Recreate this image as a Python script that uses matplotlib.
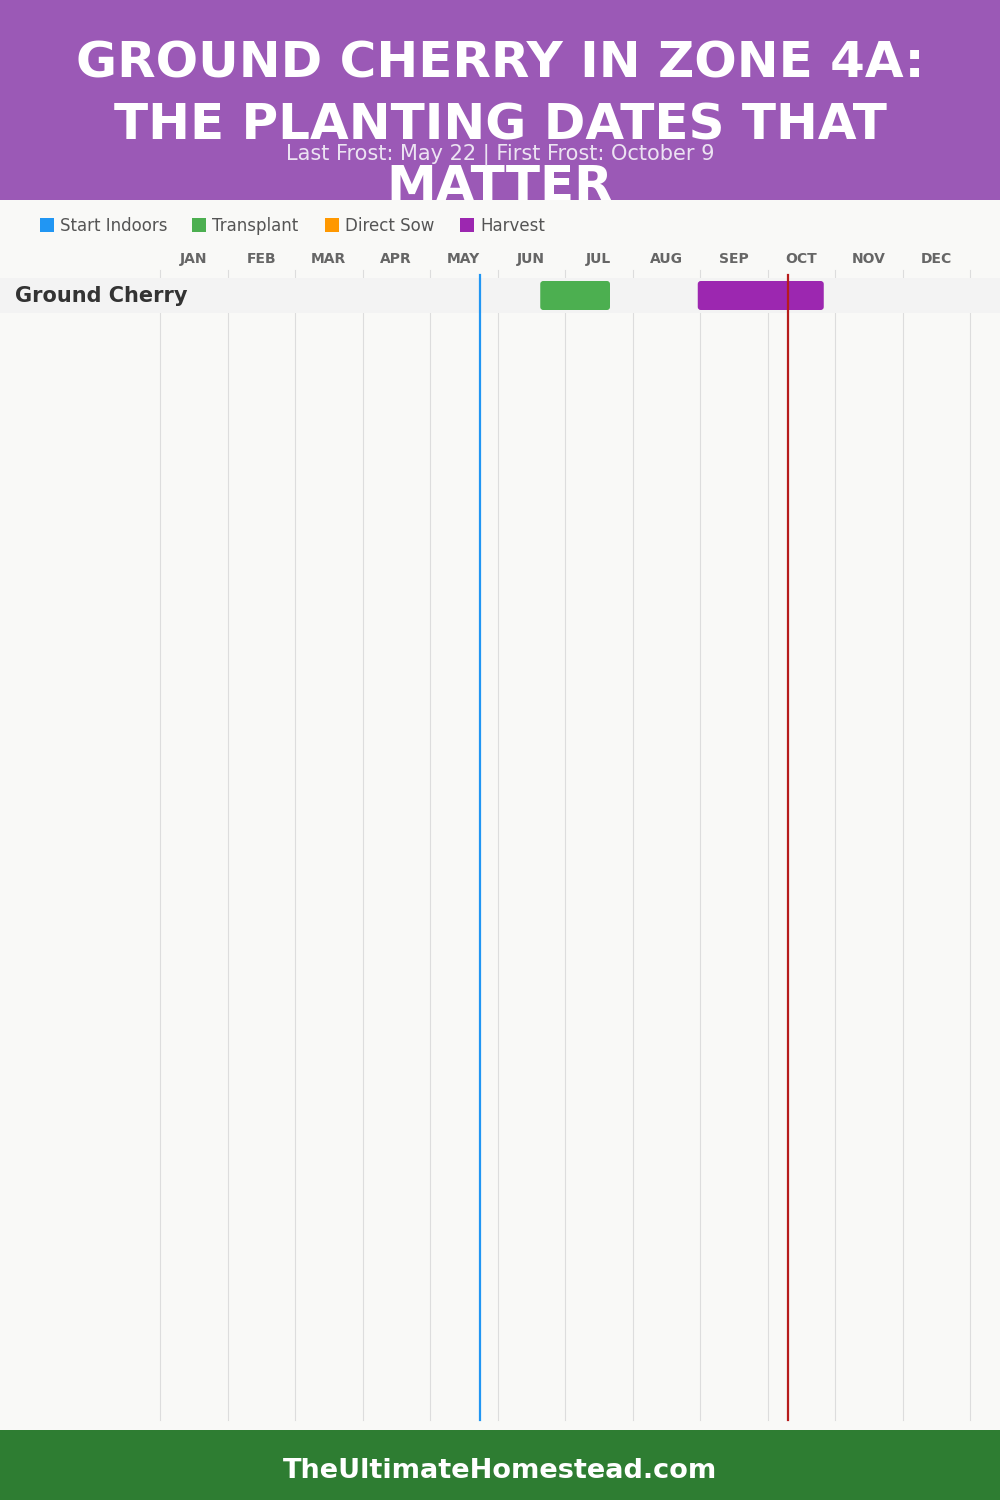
import matplotlib
matplotlib.use("Agg")
import matplotlib.pyplot as plt
from matplotlib.patches import FancyBboxPatch, Rectangle

# chart data
title = "GROUND CHERRY IN ZONE 4A:\nTHE PLANTING DATES THAT\nMATTER"
subtitle = "Last Frost: May 22 | First Frost: October 9"
footer = "TheUltimateHomestead.com"
months = ["JAN", "FEB", "MAR", "APR", "MAY", "JUN",
          "JUL", "AUG", "SEP", "OCT", "NOV", "DEC"]
legend_labels = ["Start Indoors", "Transplant", "Direct Sow", "Harvest"]
legend_colors = ["#2196f3", "#4caf50", "#ff9800", "#9c27b0"]

crops = ["Ground Cherry"]
# (month, day) ranges per crop
transplant = [((6, 19), (7, 20))]
harvest = [((8, 29), (10, 25))]
last_frost = (5, 22)
first_frost = (10, 9)


def mpos(md):
    m, d = md
    return (m - 1) + d / 30.0


W, H = 1000, 1500
fig = plt.figure(figsize=(10, 15), dpi=100)
fig.patch.set_facecolor("#f9f9f7")

# header
hdr = fig.add_axes([0, 1 - 200 / H, 1, 200 / H])
hdr.set_xlim(0, W)
hdr.set_ylim(200, 0)
hdr.set_facecolor("#9b59b6")
hdr.set_xticks([])
hdr.set_yticks([])
for s in hdr.spines.values():
    s.set_visible(False)
for i, line in enumerate(title.split("\n")):
    hdr.text(W / 2, 63 + i * 62, line, ha="center", va="center",
             color="white", fontsize=36, fontweight="heavy",
             family="DejaVu Sans", clip_on=True)
hdr.text(W / 2, 154, subtitle, ha="center", va="center",
         color="#ece3f2", fontsize=15, family="DejaVu Sans", clip_on=True)

# footer
ftr = fig.add_axes([0, 0, 1, 70 / H])
ftr.set_xlim(0, W)
ftr.set_ylim(70, 0)
ftr.set_facecolor("#2e7d32")
ftr.set_xticks([])
ftr.set_yticks([])
for s in ftr.spines.values():
    s.set_visible(False)
ftr.text(W / 2, 41, footer, ha="center", va="center", color="white",
         fontsize=19.5, fontweight="bold", family="DejaVu Sans")

# chart area: x in months, y in pixels
left_px, col_px = 160, 67.5
ax = fig.add_axes([0, 70 / H, 1, 1230 / H])
ax.set_xlim(-left_px / col_px, (W - left_px) / col_px)
ax.set_ylim(1430, 200)
ax.set_facecolor("none")
ax.set_xticks([])
ax.set_yticks([])
for s in ax.spines.values():
    s.set_visible(False)

# legend
lx = [40, 192, 325, 460]
for x, lab, col in zip(lx, legend_labels, legend_colors):
    xm = (x - left_px) / col_px
    ax.add_patch(Rectangle((xm, 218), 14 / col_px, 14, color=col, lw=0))
    ax.text(xm + 20 / col_px, 225.5, lab, ha="left", va="center",
            fontsize=12, color="#555555")

# month labels and grid
for i, m in enumerate(months):
    ax.text(i + 0.5, 259, m, ha="center", va="center", fontsize=10,
            fontweight="bold", color="#666666")
for i in range(len(months) + 1):
    ax.plot([i, i], [270, 1420], color="#dddddd", lw=0.8, zorder=1)

row_h = 35
for r, crop in enumerate(crops):
    yc = 295.5 + r * row_h
    ax.add_patch(Rectangle((ax.get_xlim()[0], yc - row_h / 2),
                           ax.get_xlim()[1] - ax.get_xlim()[0], row_h,
                           color="#f3f3f3", lw=0, zorder=2))
    ax.text((15 - left_px) / col_px, yc, crop, ha="left", va="center",
            fontsize=15, fontweight="bold", color="#333333", zorder=5)
    for rng, col in [(transplant[r], legend_colors[1]),
                     (harvest[r], legend_colors[3])]:
        x0, x1 = mpos(rng[0]), mpos(rng[1])
        ax.add_patch(FancyBboxPatch((x0, yc - 14.5), x1 - x0, 29,
                                    boxstyle="round,pad=0,rounding_size=0.045",
                                    mutation_aspect=col_px, color=col,
                                    lw=0, zorder=3))

ax.plot([mpos(last_frost)] * 2, [275, 1420], color="#2196f3", lw=1.6, zorder=4)
ax.plot([mpos(first_frost)] * 2, [275, 1420], color="#b71c1c", lw=1.6, zorder=4)

fig.savefig("out.png", dpi=100, facecolor=fig.get_facecolor())
